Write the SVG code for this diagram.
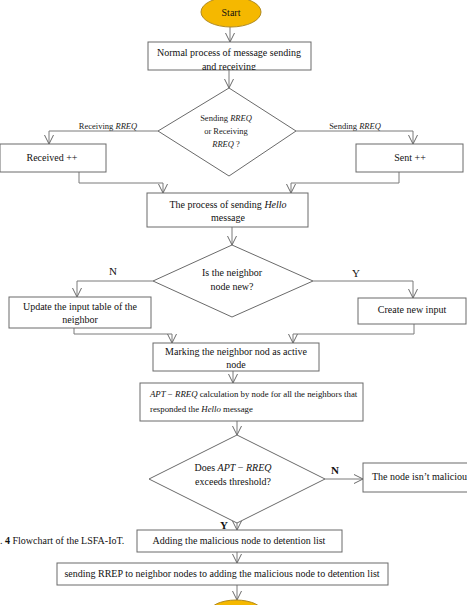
<svg xmlns="http://www.w3.org/2000/svg" width="467" height="605" viewBox="0 0 467 605">
<style>
.box{fill:#fff;stroke:#6a6a6a;stroke-width:1}
.dia{fill:#fff;stroke:#6a6a6a;stroke-width:1}
.term{fill:#f5b800;stroke:#b08a20;stroke-width:1}
.t{font-family:"Liberation Serif","Times New Roman",serif;font-size:10px;fill:#111;text-anchor:middle}
.s{font-family:"Liberation Serif","Times New Roman",serif;font-size:8.5px;fill:#222;text-anchor:middle}
.a{font-family:"Liberation Serif","Times New Roman",serif;font-size:8.8px;fill:#111}
.lbl{font-family:"Liberation Serif","Times New Roman",serif;font-size:11px;fill:#111;text-anchor:middle}
.i{font-style:italic}
.c path{fill:none;stroke:#7a7a7a;stroke-width:1;marker-end:url(#ah)}
</style>
<defs>
<marker id="ah" viewBox="0 0 10 10" refX="10" refY="5" markerWidth="10" markerHeight="10" markerUnits="userSpaceOnUse" orient="auto">
<path d="M1,0.5 L10,5 L1,9.5" fill="none" stroke="#6a6a6a" stroke-width="1"/>
</marker>
<clipPath id="cp1"><rect x="148" y="42" width="163" height="28"/></clipPath>
</defs>

<g class="c" id="connectors">
<path d="M230,27 V42"/>
<path d="M229,70 V88"/>
<path d="M158,131 H49 V144"/>
<path d="M296,131 H413 V144"/>
<path d="M79,172 V183 H163 V193"/>
<path d="M399,172 V183 H291 V193"/>
<path d="M232,227 V245"/>
<path d="M153,281 H77 V297"/>
<path d="M313,281 H413 V298"/>
<path d="M74,328 V334 H172 V343"/>
<path d="M414,324 V334 H293 V343"/>
<path d="M233,371 V383"/>
<path d="M237,421 V435"/>
<path d="M325,479 H363"/>
<path d="M237,523 V530"/>
<path d="M237,552 V563"/>
<path d="M237,585 V600"/>
</g>

<g id="start">
<ellipse class="term" cx="231" cy="12" rx="30" ry="15"/>
<text class="t" x="231" y="16">Start</text>
</g>

<g id="normal">
<rect class="box" x="148" y="42" width="163" height="28"/>
<g clip-path="url(#cp1)">
<text class="t" x="229" y="56">Normal process of message sending</text>
<text class="t" x="229" y="70">and receiving</text>
</g>
</g>

<g id="dec1">
<polygon class="dia" points="229,88 296,131 229,176 158,131"/>
<text class="s" x="226" y="121">Sending <tspan class="i">RREQ</tspan></text>
<text class="s" x="226" y="134">or Receiving</text>
<text class="s" x="226" y="147"><tspan class="i">RREQ</tspan> ?</text>
</g>
<g id="lbl-recv"><text class="s" x="108" y="129">Receiving  <tspan class="i">RREQ</tspan></text></g>
<g id="lbl-send"><text class="s" x="355" y="129">Sending  <tspan class="i">RREQ</tspan></text></g>

<g id="received">
<rect class="box" x="0" y="144" width="106" height="28"/>
<text class="t" x="52" y="161">Received ++</text>
</g>

<g id="sent">
<rect class="box" x="356" y="144" width="107" height="28"/>
<text class="t" x="410" y="161">Sent ++</text>
</g>

<g id="hello">
<rect class="box" x="147" y="193" width="161" height="34"/>
<text class="t" x="228" y="208">The process of sending <tspan class="i">Hello</tspan></text>
<text class="t" x="228" y="221">message</text>
</g>

<g id="dec2">
<polygon class="dia" points="232,245 313,281 232,317 153,281"/>
<text class="t" x="232" y="276">Is the neighbor</text>
<text class="t" x="232" y="290">node new?</text>
</g>
<g id="lbl-n1"><text class="lbl" x="113" y="275">N</text></g>
<g id="lbl-y1"><text class="lbl" x="356" y="277">Y</text></g>

<g id="update">
<rect class="box" x="9" y="297" width="142" height="31"/>
<text class="t" x="80" y="310">Update the input table of the</text>
<text class="t" x="80" y="323">neighbor</text>
</g>

<g id="create">
<rect class="box" x="358" y="298" width="108" height="26"/>
<text class="t" x="412" y="313">Create new input</text>
</g>

<g id="marking">
<rect class="box" x="153" y="343" width="166" height="28"/>
<text class="t" x="236" y="355">Marking the neighbor nod as active</text>
<text class="t" x="236" y="368">node</text>
</g>

<g id="apt">
<rect class="box" x="140" y="383" width="223" height="38"/>
<text class="a" x="150" y="397"><tspan class="i">APT</tspan> − <tspan class="i">RREQ</tspan> calculation by node for all the neighbors that</text>
<text class="a" x="150" y="412">responded the <tspan class="i">Hello</tspan> message</text>
</g>

<g id="dec3">
<polygon class="dia" points="237,435 325,479 237,523 149,479"/>
<text class="t" x="233" y="471">Does  <tspan class="i">APT</tspan> − <tspan class="i">RREQ</tspan></text>
<text class="t" x="233" y="485">exceeds threshold?</text>
</g>
<g id="lbl-n2"><text class="lbl" x="335" y="474" font-weight="bold">N</text></g>
<g id="lbl-y2"><text class="lbl" x="224" y="529" font-weight="bold">Y</text></g>

<g id="notmal">
<rect class="box" x="363" y="463" width="110" height="29"/>
<text class="t" x="372" y="480" style="text-anchor:start">The node isn’t malicious</text>
</g>

<g id="adding">
<rect class="box" x="137" y="530" width="205" height="22"/>
<text class="t" x="239" y="544">Adding the malicious node to detention list</text>
</g>

<g id="caption"><text class="t" x="0" y="544" style="text-anchor:start">. <tspan font-weight="bold">4</tspan> Flowchart of the LSFA-IoT.</text></g>

<g id="sendrrep">
<rect class="box" x="57" y="563" width="331" height="22"/>
<text class="t" x="222" y="577">sending RREP to neighbor nodes to adding the malicious node to detention list</text>
</g>

<g id="end">
<ellipse class="term" cx="236" cy="614" rx="28" ry="14"/>
</g>
</svg>
